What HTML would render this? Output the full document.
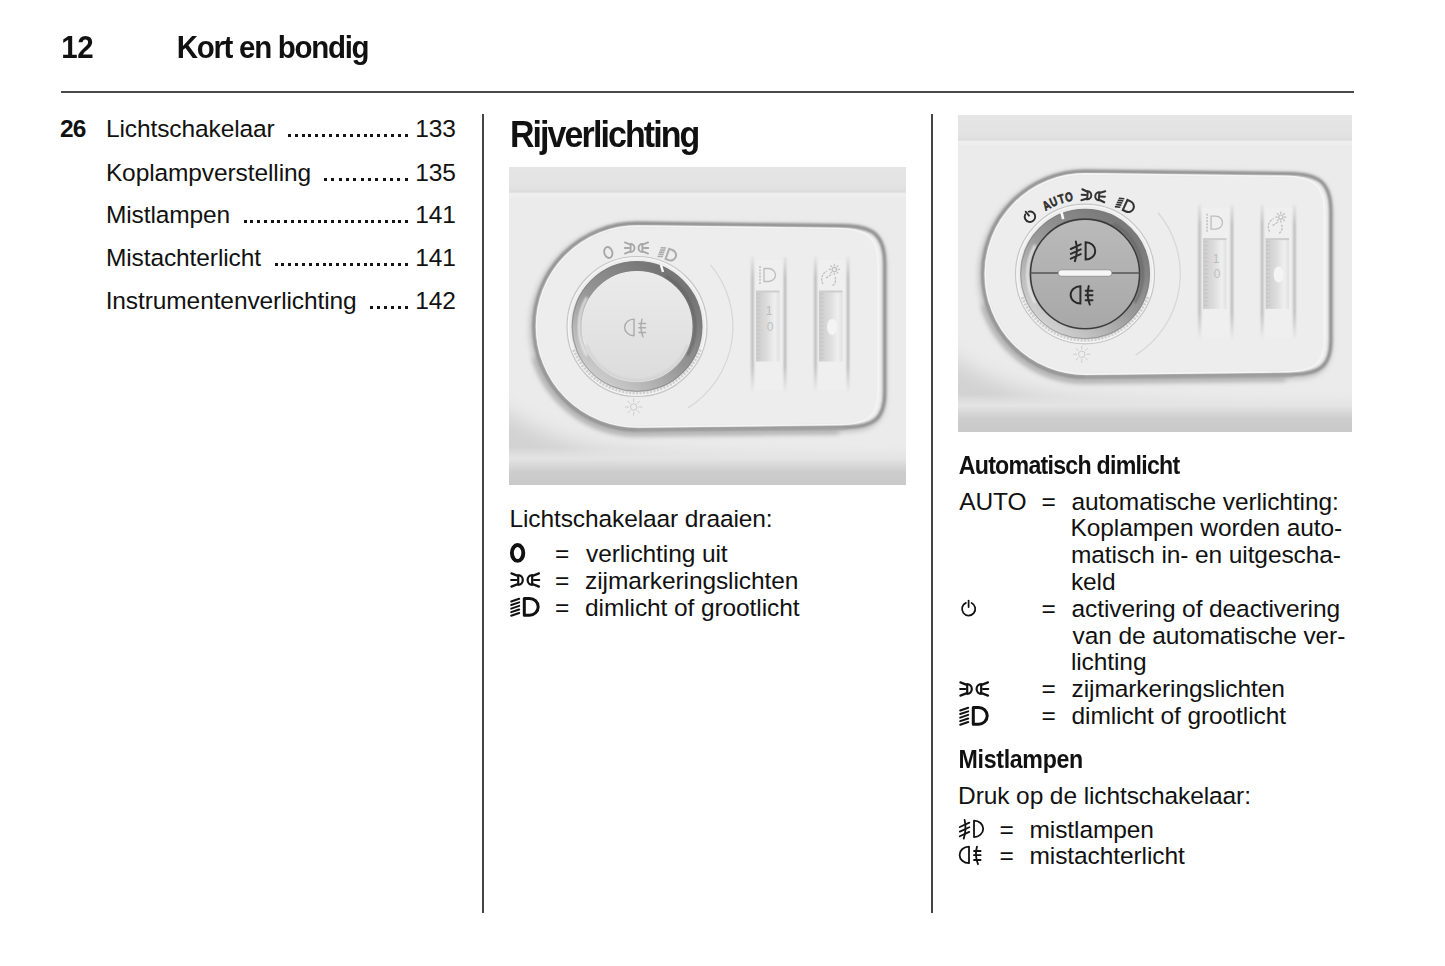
<!DOCTYPE html>
<html><head><meta charset="utf-8"><style>
html,body{margin:0;padding:0;background:#fff;}
body{width:1445px;height:966px;position:relative;overflow:hidden;font-family:"Liberation Sans",sans-serif;color:#111;}
.t{position:absolute;white-space:nowrap;}
.r{position:absolute;}

</style></head><body>
<div class="t" style="left:61.24px;top:31.89px;font-size:29.50px;line-height:32.96px;font-weight:bold;letter-spacing:-0.30px;transform:scaleY(1.07);transform-origin:0 26.71px;">12</div>
<div class="t" style="left:176.73px;top:31.89px;font-size:29.50px;line-height:32.96px;font-weight:bold;letter-spacing:-1.30px;transform:scaleY(1.07);transform-origin:0 26.71px;">Kort en bondig</div>
<div class="r" style="left:61px;top:91px;width:1293px;height:2px;background:#4a4a4a"></div>
<div class="t" style="left:59.95px;top:114.72px;font-size:24.50px;line-height:27.37px;font-weight:bold;letter-spacing:-0.80px;">26</div>
<div class="t" style="left:105.89px;top:114.72px;font-size:24.50px;line-height:27.37px;letter-spacing:-0.10px;">Lichtschakelaar</div>
<div class="t" style="left:415.13px;top:114.72px;font-size:24.50px;line-height:27.37px;letter-spacing:-0.10px;">133</div>
<div class="r" style="left:287.75px;top:133.70px;width:3px;height:3px;background:#141414"></div>
<div class="r" style="left:294.64px;top:133.70px;width:3px;height:3px;background:#141414"></div>
<div class="r" style="left:301.53px;top:133.70px;width:3px;height:3px;background:#141414"></div>
<div class="r" style="left:308.42px;top:133.70px;width:3px;height:3px;background:#141414"></div>
<div class="r" style="left:315.31px;top:133.70px;width:3px;height:3px;background:#141414"></div>
<div class="r" style="left:322.21px;top:133.70px;width:3px;height:3px;background:#141414"></div>
<div class="r" style="left:329.10px;top:133.70px;width:3px;height:3px;background:#141414"></div>
<div class="r" style="left:335.99px;top:133.70px;width:3px;height:3px;background:#141414"></div>
<div class="r" style="left:342.88px;top:133.70px;width:3px;height:3px;background:#141414"></div>
<div class="r" style="left:349.77px;top:133.70px;width:3px;height:3px;background:#141414"></div>
<div class="r" style="left:356.66px;top:133.70px;width:3px;height:3px;background:#141414"></div>
<div class="r" style="left:363.55px;top:133.70px;width:3px;height:3px;background:#141414"></div>
<div class="r" style="left:370.44px;top:133.70px;width:3px;height:3px;background:#141414"></div>
<div class="r" style="left:377.34px;top:133.70px;width:3px;height:3px;background:#141414"></div>
<div class="r" style="left:384.23px;top:133.70px;width:3px;height:3px;background:#141414"></div>
<div class="r" style="left:391.12px;top:133.70px;width:3px;height:3px;background:#141414"></div>
<div class="r" style="left:398.01px;top:133.70px;width:3px;height:3px;background:#141414"></div>
<div class="r" style="left:404.90px;top:133.70px;width:3px;height:3px;background:#141414"></div>
<div class="t" style="left:105.89px;top:158.62px;font-size:24.50px;line-height:27.37px;letter-spacing:-0.10px;">Koplampverstelling</div>
<div class="t" style="left:415.13px;top:158.62px;font-size:24.50px;line-height:27.37px;letter-spacing:-0.10px;">135</div>
<div class="r" style="left:323.90px;top:177.60px;width:3px;height:3px;background:#141414"></div>
<div class="r" style="left:331.25px;top:177.60px;width:3px;height:3px;background:#141414"></div>
<div class="r" style="left:338.61px;top:177.60px;width:3px;height:3px;background:#141414"></div>
<div class="r" style="left:345.96px;top:177.60px;width:3px;height:3px;background:#141414"></div>
<div class="r" style="left:353.32px;top:177.60px;width:3px;height:3px;background:#141414"></div>
<div class="r" style="left:360.67px;top:177.60px;width:3px;height:3px;background:#141414"></div>
<div class="r" style="left:368.03px;top:177.60px;width:3px;height:3px;background:#141414"></div>
<div class="r" style="left:375.38px;top:177.60px;width:3px;height:3px;background:#141414"></div>
<div class="r" style="left:382.74px;top:177.60px;width:3px;height:3px;background:#141414"></div>
<div class="r" style="left:390.09px;top:177.60px;width:3px;height:3px;background:#141414"></div>
<div class="r" style="left:397.45px;top:177.60px;width:3px;height:3px;background:#141414"></div>
<div class="r" style="left:404.80px;top:177.60px;width:3px;height:3px;background:#141414"></div>
<div class="t" style="left:105.89px;top:201.02px;font-size:24.50px;line-height:27.37px;letter-spacing:-0.10px;">Mistlampen</div>
<div class="t" style="left:415.13px;top:201.02px;font-size:24.50px;line-height:27.37px;letter-spacing:-0.10px;">141</div>
<div class="r" style="left:243.70px;top:220.00px;width:3px;height:3px;background:#141414"></div>
<div class="r" style="left:250.42px;top:220.00px;width:3px;height:3px;background:#141414"></div>
<div class="r" style="left:257.15px;top:220.00px;width:3px;height:3px;background:#141414"></div>
<div class="r" style="left:263.88px;top:220.00px;width:3px;height:3px;background:#141414"></div>
<div class="r" style="left:270.60px;top:220.00px;width:3px;height:3px;background:#141414"></div>
<div class="r" style="left:277.32px;top:220.00px;width:3px;height:3px;background:#141414"></div>
<div class="r" style="left:284.05px;top:220.00px;width:3px;height:3px;background:#141414"></div>
<div class="r" style="left:290.77px;top:220.00px;width:3px;height:3px;background:#141414"></div>
<div class="r" style="left:297.50px;top:220.00px;width:3px;height:3px;background:#141414"></div>
<div class="r" style="left:304.23px;top:220.00px;width:3px;height:3px;background:#141414"></div>
<div class="r" style="left:310.95px;top:220.00px;width:3px;height:3px;background:#141414"></div>
<div class="r" style="left:317.68px;top:220.00px;width:3px;height:3px;background:#141414"></div>
<div class="r" style="left:324.40px;top:220.00px;width:3px;height:3px;background:#141414"></div>
<div class="r" style="left:331.12px;top:220.00px;width:3px;height:3px;background:#141414"></div>
<div class="r" style="left:337.85px;top:220.00px;width:3px;height:3px;background:#141414"></div>
<div class="r" style="left:344.58px;top:220.00px;width:3px;height:3px;background:#141414"></div>
<div class="r" style="left:351.30px;top:220.00px;width:3px;height:3px;background:#141414"></div>
<div class="r" style="left:358.02px;top:220.00px;width:3px;height:3px;background:#141414"></div>
<div class="r" style="left:364.75px;top:220.00px;width:3px;height:3px;background:#141414"></div>
<div class="r" style="left:371.48px;top:220.00px;width:3px;height:3px;background:#141414"></div>
<div class="r" style="left:378.20px;top:220.00px;width:3px;height:3px;background:#141414"></div>
<div class="r" style="left:384.93px;top:220.00px;width:3px;height:3px;background:#141414"></div>
<div class="r" style="left:391.65px;top:220.00px;width:3px;height:3px;background:#141414"></div>
<div class="r" style="left:398.38px;top:220.00px;width:3px;height:3px;background:#141414"></div>
<div class="r" style="left:405.10px;top:220.00px;width:3px;height:3px;background:#141414"></div>
<div class="t" style="left:105.89px;top:244.32px;font-size:24.50px;line-height:27.37px;letter-spacing:-0.10px;">Mistachterlicht</div>
<div class="t" style="left:415.13px;top:244.32px;font-size:24.50px;line-height:27.37px;letter-spacing:-0.10px;">141</div>
<div class="r" style="left:274.60px;top:263.30px;width:3px;height:3px;background:#141414"></div>
<div class="r" style="left:281.45px;top:263.30px;width:3px;height:3px;background:#141414"></div>
<div class="r" style="left:288.29px;top:263.30px;width:3px;height:3px;background:#141414"></div>
<div class="r" style="left:295.14px;top:263.30px;width:3px;height:3px;background:#141414"></div>
<div class="r" style="left:301.99px;top:263.30px;width:3px;height:3px;background:#141414"></div>
<div class="r" style="left:308.84px;top:263.30px;width:3px;height:3px;background:#141414"></div>
<div class="r" style="left:315.68px;top:263.30px;width:3px;height:3px;background:#141414"></div>
<div class="r" style="left:322.53px;top:263.30px;width:3px;height:3px;background:#141414"></div>
<div class="r" style="left:329.38px;top:263.30px;width:3px;height:3px;background:#141414"></div>
<div class="r" style="left:336.23px;top:263.30px;width:3px;height:3px;background:#141414"></div>
<div class="r" style="left:343.07px;top:263.30px;width:3px;height:3px;background:#141414"></div>
<div class="r" style="left:349.92px;top:263.30px;width:3px;height:3px;background:#141414"></div>
<div class="r" style="left:356.77px;top:263.30px;width:3px;height:3px;background:#141414"></div>
<div class="r" style="left:363.62px;top:263.30px;width:3px;height:3px;background:#141414"></div>
<div class="r" style="left:370.46px;top:263.30px;width:3px;height:3px;background:#141414"></div>
<div class="r" style="left:377.31px;top:263.30px;width:3px;height:3px;background:#141414"></div>
<div class="r" style="left:384.16px;top:263.30px;width:3px;height:3px;background:#141414"></div>
<div class="r" style="left:391.01px;top:263.30px;width:3px;height:3px;background:#141414"></div>
<div class="r" style="left:397.85px;top:263.30px;width:3px;height:3px;background:#141414"></div>
<div class="r" style="left:404.70px;top:263.30px;width:3px;height:3px;background:#141414"></div>
<div class="t" style="left:105.64px;top:287.12px;font-size:24.50px;line-height:27.37px;letter-spacing:-0.10px;">Instrumentenverlichting</div>
<div class="t" style="left:415.13px;top:287.12px;font-size:24.50px;line-height:27.37px;letter-spacing:-0.10px;">142</div>
<div class="r" style="left:370.30px;top:306.10px;width:3px;height:3px;background:#141414"></div>
<div class="r" style="left:377.18px;top:306.10px;width:3px;height:3px;background:#141414"></div>
<div class="r" style="left:384.06px;top:306.10px;width:3px;height:3px;background:#141414"></div>
<div class="r" style="left:390.94px;top:306.10px;width:3px;height:3px;background:#141414"></div>
<div class="r" style="left:397.82px;top:306.10px;width:3px;height:3px;background:#141414"></div>
<div class="r" style="left:404.70px;top:306.10px;width:3px;height:3px;background:#141414"></div>
<div class="r" style="left:482px;top:114px;width:1.6px;height:799px;background:#444"></div>
<div class="r" style="left:931.2px;top:114px;width:1.6px;height:799px;background:#444"></div>
<div class="t" style="left:509.93px;top:116.02px;font-size:34.00px;line-height:37.98px;font-weight:bold;letter-spacing:-1.92px;transform:scaleY(1.085);transform-origin:0 30.78px;">Rijverlichting</div>
<div class="t" style="left:509.39px;top:505.42px;font-size:24.50px;line-height:27.37px;letter-spacing:-0.10px;">Lichtschakelaar draaien:</div>
<div class="t" style="left:555.10px;top:539.72px;font-size:24.50px;line-height:27.37px;">=</div>
<div class="t" style="left:586.02px;top:539.72px;font-size:24.50px;line-height:27.37px;letter-spacing:-0.10px;">verlichting uit</div>
<div class="t" style="left:555.10px;top:566.62px;font-size:24.50px;line-height:27.37px;">=</div>
<div class="t" style="left:585.11px;top:566.62px;font-size:24.50px;line-height:27.37px;letter-spacing:-0.10px;">zijmarkeringslichten</div>
<div class="t" style="left:555.10px;top:593.52px;font-size:24.50px;line-height:27.37px;">=</div>
<div class="t" style="left:585.07px;top:593.52px;font-size:24.50px;line-height:27.37px;letter-spacing:-0.10px;">dimlicht of grootlicht</div>
<div class="t" style="left:958.72px;top:453.80px;font-size:23.20px;line-height:25.92px;font-weight:bold;letter-spacing:-0.75px;transform:scaleY(1.08);transform-origin:0 21.00px;">Automatisch dimlicht</div>
<div class="t" style="left:959.25px;top:487.62px;font-size:24.50px;line-height:27.37px;letter-spacing:-0.10px;">AUTO</div>
<div class="t" style="left:1071.56px;top:487.62px;font-size:24.50px;line-height:27.37px;letter-spacing:-0.10px;">automatische verlichting:</div>
<div class="t" style="left:1070.59px;top:514.42px;font-size:24.50px;line-height:27.37px;letter-spacing:-0.10px;">Koplampen worden auto-</div>
<div class="t" style="left:1070.97px;top:541.22px;font-size:24.50px;line-height:27.37px;letter-spacing:-0.10px;">matisch in- en uitgescha-</div>
<div class="t" style="left:1070.95px;top:568.02px;font-size:24.50px;line-height:27.37px;letter-spacing:-0.10px;">keld</div>
<div class="t" style="left:1071.56px;top:594.82px;font-size:24.50px;line-height:27.37px;letter-spacing:-0.10px;">activering of deactivering</div>
<div class="t" style="left:1072.52px;top:621.62px;font-size:24.50px;line-height:27.37px;letter-spacing:-0.10px;">van de automatische ver-</div>
<div class="t" style="left:1070.95px;top:648.42px;font-size:24.50px;line-height:27.37px;letter-spacing:-0.10px;">lichting</div>
<div class="t" style="left:1071.61px;top:675.22px;font-size:24.50px;line-height:27.37px;letter-spacing:-0.10px;">zijmarkeringslichten</div>
<div class="t" style="left:1071.57px;top:702.02px;font-size:24.50px;line-height:27.37px;letter-spacing:-0.10px;">dimlicht of grootlicht</div>
<div class="t" style="left:1041.60px;top:487.62px;font-size:24.50px;line-height:27.37px;">=</div>
<div class="t" style="left:1041.60px;top:594.82px;font-size:24.50px;line-height:27.37px;">=</div>
<div class="t" style="left:1041.60px;top:675.22px;font-size:24.50px;line-height:27.37px;">=</div>
<div class="t" style="left:1041.60px;top:702.02px;font-size:24.50px;line-height:27.37px;">=</div>
<div class="t" style="left:958.55px;top:747.70px;font-size:23.20px;line-height:25.92px;font-weight:bold;letter-spacing:-0.32px;transform:scaleY(1.08);transform-origin:0 21.00px;">Mistlampen</div>
<div class="t" style="left:958.09px;top:781.62px;font-size:24.50px;line-height:27.37px;letter-spacing:-0.10px;">Druk op de lichtschakelaar:</div>
<div class="t" style="left:999.50px;top:815.62px;font-size:24.50px;line-height:27.37px;">=</div>
<div class="t" style="left:1029.57px;top:815.62px;font-size:24.50px;line-height:27.37px;letter-spacing:-0.10px;">mistlampen</div>
<div class="t" style="left:999.50px;top:842.42px;font-size:24.50px;line-height:27.37px;">=</div>
<div class="t" style="left:1029.57px;top:842.42px;font-size:24.50px;line-height:27.37px;letter-spacing:-0.10px;">mistachterlicht</div>
<svg class="r" style="left:509px;top:167px" width="397" height="318" viewBox="0 0 397 318" preserveAspectRatio="none">
<defs>
<filter id="p1b1" x="-20%" y="-20%" width="140%" height="140%"><feGaussianBlur stdDeviation="1.1"/></filter>
<filter id="p1b2" x="-20%" y="-20%" width="140%" height="140%"><feGaussianBlur stdDeviation="2.5"/></filter>
<filter id="p1b6" x="-50%" y="-50%" width="200%" height="200%"><feGaussianBlur stdDeviation="10"/></filter>
<filter id="p1b05" x="-20%" y="-20%" width="140%" height="140%"><feGaussianBlur stdDeviation="0.6"/></filter>
<linearGradient id="p1top" x1="0" y1="0" x2="0" y2="1"><stop offset="0" stop-color="#e5e5e5"/><stop offset="0.7" stop-color="#e3e3e3"/><stop offset="1" stop-color="#dedede"/></linearGradient>
<linearGradient id="p1bot" x1="0" y1="0" x2="0" y2="1">
 <stop offset="0" stop-color="#e8e8e8" stop-opacity="0"/><stop offset="0.3" stop-color="#e4e4e4"/><stop offset="0.65" stop-color="#cdcdcd"/><stop offset="1" stop-color="#c9c9c9"/></linearGradient>
<linearGradient id="p1ring" x1="0.85" y1="0.15" x2="0.2" y2="0.95">
 <stop offset="0" stop-color="#747474"/><stop offset="0.5" stop-color="#959595"/><stop offset="1" stop-color="#cdcdcd"/></linearGradient>
<linearGradient id="p1face" x1="0" y1="0" x2="0" y2="1">
 <stop offset="0" stop-color="#ebebeb"/><stop offset="1" stop-color="#dcdcdc"/></linearGradient>
<linearGradient id="p1wheel" x1="0" y1="0" x2="1" y2="0">
 <stop offset="0" stop-color="#cbcbcb"/><stop offset="0.45" stop-color="#dcdcdc"/><stop offset="0.8" stop-color="#efefef"/><stop offset="1" stop-color="#e0e0e0"/></linearGradient>
<linearGradient id="p1line" x1="0" y1="0" x2="0" y2="1">
 <stop offset="0" stop-color="#b0b0b0" stop-opacity="0.2"/><stop offset="0.15" stop-color="#b0b0b0" stop-opacity="1"/><stop offset="0.8" stop-color="#b0b0b0" stop-opacity="1"/><stop offset="1" stop-color="#b0b0b0" stop-opacity="0"/></linearGradient>
</defs>
<rect x="0" y="0" width="397" height="318" fill="#ebebeb"/>
<rect x="0" y="0" width="397" height="25" fill="url(#p1top)"/>
<rect x="0" y="24" width="397" height="2" fill="#dcdcdc" filter="url(#p1b05)"/>
<rect x="0" y="26" width="397" height="4" fill="#efefef" filter="url(#p1b1)"/>
<path d="M-30,225 Q30,275 110,285 Q250,298 420,298 L420,340 L-30,340 Z" fill="#d2d2d2" filter="url(#p1b6)"/>
<rect x="0" y="280" width="397" height="38" fill="url(#p1bot)"/>
<path d="M128,56.5 L334,59 C362,59.5 375.5,66 375.5,97 L375.5,226 C375.5,252 364,259.5 338,260 L128,262.5 A103,103 0 0 1 128,56.5 Z" fill="none" stroke="#c6c6c6" stroke-width="7" filter="url(#p1b2)" transform="translate(-1.5,2)"/>
<path d="M330,264 L128,266 A106,106 0 0 1 26,190" fill="none" stroke="#b4b4b4" stroke-width="6" filter="url(#p1b2)"/>
<path d="M128,56.5 L334,59 C362,59.5 375.5,66 375.5,97 L375.5,226 C375.5,252 364,259.5 338,260 L128,262.5 A103,103 0 0 1 128,56.5 Z" fill="#ededed" stroke="#909090" stroke-width="3.8" filter="url(#p1b1)"/>
<path d="M128,262.5 A103,103 0 0 1 30,190" fill="none" stroke="#9a9a9a" stroke-width="2.5" filter="url(#p1b1)"/>
<path d="M128,263.5 L338,261" fill="none" stroke="#a2a2a2" stroke-width="2.5" filter="url(#p1b1)"/>
<path d="M128,56.5 L334,59 C362,59.5 375.5,66 375.5,97 L375.5,226 C375.5,252 364,259.5 338,260 L128,262.5 A103,103 0 0 1 128,56.5 Z" fill="none" stroke="#f5f5f5" stroke-width="1.6" transform="translate(128,160) scale(0.975) translate(-128,-160)" filter="url(#p1b05)"/>
<path d="M201.5,97.8 A96,96 0 0 1 178.9,240.9" fill="none" stroke="#d8d8d8" stroke-width="1.3" filter="url(#p1b05)"/>
<circle cx="128" cy="159.5" r="70" fill="none" stroke="#c6c6c6" stroke-width="1.2" filter="url(#p1b05)"/>
<circle cx="128" cy="159.5" r="68.5" fill="none" stroke="#f6f6f6" stroke-width="1.2" filter="url(#p1b05)"/>
<path d="M191.4,182.6 A68,68 0 0 1 64.6,182.6" fill="none" stroke="#cfcfcf" stroke-width="3" stroke-dasharray="2 1.5" filter="url(#p1b05)"/>
<circle cx="128" cy="159.5" r="60.5" fill="none" stroke="url(#p1ring)" stroke-width="10" filter="url(#p1b05)"/>
<path d="M77.8,130.5 A58,58 0 0 0 77.8,188.5" fill="none" stroke="#eeeeee" stroke-width="2.2" filter="url(#p1b1)"/>
<path d="M157.0,109.3 A58,58 0 0 1 178.2,188.5" fill="none" stroke="#5f5f5f" stroke-width="2.5" opacity="0.7" filter="url(#p1b1)"/>
<circle cx="128" cy="159.5" r="64.8" fill="none" stroke="#7d7d7d" stroke-width="1" opacity="0.6"/>
<circle cx="128" cy="159.5" r="55" fill="url(#p1face)"/>
<path d="M178.7,178.0 A54,54 0 0 1 77.3,178.0" fill="none" stroke="#cfcfcf" stroke-width="2" filter="url(#p1b1)"/>
<g transform="translate(128,160.5) rotate(0) scale(1) translate(-17,-15)"><path d="M14.0,6.6 A9.4,8.3 0 0 0 14.0,23.2 Z" fill="none" stroke="#ababab" stroke-width="1.4"/><path d="M19.0,11.0 L25.6,11.0 M19.0,15.2 L25.6,15.2 M19.0,20.0 L25.6,20.0 M22.0,6.6 Q19.4,15.5 23.0,24.2" fill="none" stroke="#ababab" stroke-width="1.4" stroke-linecap="round"/></g>
<path d="M152,98 L154,105" stroke="#fafafa" stroke-width="2.4"/>
<g transform="translate(99.3,85.5) rotate(-15) scale(0.7)"><ellipse cx="0" cy="0" rx="5.7" ry="7.95" fill="none" stroke="#a6a6a6" stroke-width="2.6"/></g>
<g transform="translate(127.5,81) rotate(0) scale(0.84) translate(-20.2,-12)"><path d="M13.2,7.2 A4.6,4.8 0 0 1 13.2,16.8 Z" fill="none" stroke="#a8a8a8" stroke-width="2.2"/><path d="M6.4,5.4 L12.2,7.6 M6.2,12 L11.4,12 M6.4,18.6 L12.2,16.4" stroke="#a8a8a8" stroke-width="2.2" stroke-linecap="round"/><g transform="translate(40.4,0) scale(-1,1)"><path d="M13.2,7.2 A4.6,4.8 0 0 1 13.2,16.8 Z" fill="none" stroke="#a8a8a8" stroke-width="2.2"/><path d="M6.4,5.4 L12.2,7.6 M6.2,12 L11.4,12 M6.4,18.6 L12.2,16.4" stroke="#a8a8a8" stroke-width="2.2" stroke-linecap="round"/></g></g>
<g transform="translate(160,87.5) rotate(20) scale(0.64) translate(-22,-16.8)"><path d="M19.3,8.4 L24.6,8.4 A8.6,8.4 0 0 1 24.6,25.2 L19.3,25.2 Z" fill="none" stroke="#acacac" stroke-width="3.12"/><path d="M6.2,11.50 L14.2,8.80 M6.2,15.05 L14.2,12.35 M6.2,18.60 L14.2,15.90 M6.2,22.15 L14.2,19.45 M6.2,25.70 L14.2,23.00 " stroke="#acacac" stroke-width="2.4"/></g>
<circle cx="124.7" cy="240" r="3.22" fill="none" stroke="#cbcbcb" stroke-width="1"/><path d="M129.53,240.00 L133.32,240.00 M128.12,243.42 L130.80,246.10 M124.70,244.83 L124.70,248.62 M121.28,243.42 L118.60,246.10 M119.87,240.00 L116.08,240.00 M121.28,236.58 L118.60,233.90 M124.70,235.17 L124.70,231.38 M128.12,236.58 L130.80,233.90 " stroke="#cbcbcb" stroke-width="1"/>
<rect x="243.5" y="93" width="32" height="130" fill="#efefef" filter="url(#p1b05)"/>
<path d="M243.5,90 L243.5,226 M276,90 L276,226" stroke="url(#p1line)" stroke-width="2.2" filter="url(#p1b1)"/>
<rect x="247" y="124.5" width="23.5" height="70" fill="url(#p1wheel)" filter="url(#p1b05)"/>
<path d="M247.5,127 L251.5,127 M247.5,131 L251.5,131 M247.5,135 L251.5,135 M247.5,139 L251.5,139 M247.5,143 L251.5,143 M247.5,147 L251.5,147 M247.5,151 L251.5,151 M247.5,155 L251.5,155 M247.5,159 L251.5,159 M247.5,163 L251.5,163 M247.5,167 L251.5,167 M247.5,171 L251.5,171 M247.5,175 L251.5,175 M247.5,179 L251.5,179 M247.5,183 L251.5,183 M247.5,187 L251.5,187 M247.5,191 L251.5,191 " stroke="#c2c2c2" stroke-width="0.8"/>
<rect x="247" y="123.5" width="23.5" height="2" fill="#cdcdcd" filter="url(#p1b05)"/>
<rect x="306.5" y="93" width="32" height="130" fill="#efefef" filter="url(#p1b05)"/>
<path d="M306.5,90 L306.5,226 M339,90 L339,226" stroke="url(#p1line)" stroke-width="2.2" filter="url(#p1b1)"/>
<rect x="310" y="124.5" width="23.5" height="70" fill="url(#p1wheel)" filter="url(#p1b05)"/>
<path d="M310.5,127 L314.5,127 M310.5,131 L314.5,131 M310.5,135 L314.5,135 M310.5,139 L314.5,139 M310.5,143 L314.5,143 M310.5,147 L314.5,147 M310.5,151 L314.5,151 M310.5,155 L314.5,155 M310.5,159 L314.5,159 M310.5,163 L314.5,163 M310.5,167 L314.5,167 M310.5,171 L314.5,171 M310.5,175 L314.5,175 M310.5,179 L314.5,179 M310.5,183 L314.5,183 M310.5,187 L314.5,187 M310.5,191 L314.5,191 " stroke="#c2c2c2" stroke-width="0.8"/>
<rect x="310" y="123.5" width="23.5" height="2" fill="#cdcdcd" filter="url(#p1b05)"/>
<path d="M255,101.5 L259.5,101.5 A7,6.5 0 0 1 259.5,114.5 L255,114.5 Z" fill="none" stroke="#bdbdbd" stroke-width="1.3"/>
<path d="M251,99 L251,118" stroke="#c2c2c2" stroke-width="1.6" stroke-dasharray="2 1.2"/>
<circle cx="325.3" cy="102.4" r="2.1" fill="none" stroke="#c0c0c0" stroke-width="1.2"/><path d="M328.45,102.40 L330.93,102.40 M327.53,104.63 L329.28,106.38 M325.30,105.55 L325.30,108.03 M323.07,104.63 L321.32,106.38 M322.15,102.40 L319.68,102.40 M323.07,100.17 L321.32,98.42 M325.30,99.25 L325.30,96.78 M327.53,100.17 L329.28,98.42 " stroke="#c0c0c0" stroke-width="1.2"/>
<path d="M314,117 A9,9 0 0 1 318,104 M317,111 L323,107 M326,110 A7,7 0 0 1 323,119" fill="none" stroke="#c0c0c0" stroke-width="1.3" stroke-dasharray="2.5 1"/>
<text x="260" y="148" text-anchor="middle" font-family="Liberation Sans" font-size="12" fill="#bcbcbc">1</text><text x="261" y="164" text-anchor="middle" font-family="Liberation Sans" font-size="12" fill="#c0c0c0">0</text>
<ellipse cx="323" cy="160" rx="5" ry="8" fill="#f4f4f4" filter="url(#p1b05)"/>
</svg>
<svg class="r" style="left:958px;top:115px" width="394" height="317" viewBox="0 0 397 318" preserveAspectRatio="none">
<defs>
<filter id="p2b1" x="-20%" y="-20%" width="140%" height="140%"><feGaussianBlur stdDeviation="1.1"/></filter>
<filter id="p2b2" x="-20%" y="-20%" width="140%" height="140%"><feGaussianBlur stdDeviation="2.5"/></filter>
<filter id="p2b6" x="-50%" y="-50%" width="200%" height="200%"><feGaussianBlur stdDeviation="10"/></filter>
<filter id="p2b05" x="-20%" y="-20%" width="140%" height="140%"><feGaussianBlur stdDeviation="0.6"/></filter>
<linearGradient id="p2top" x1="0" y1="0" x2="0" y2="1"><stop offset="0" stop-color="#e5e5e5"/><stop offset="0.7" stop-color="#e3e3e3"/><stop offset="1" stop-color="#dedede"/></linearGradient>
<linearGradient id="p2bot" x1="0" y1="0" x2="0" y2="1">
 <stop offset="0" stop-color="#e8e8e8" stop-opacity="0"/><stop offset="0.3" stop-color="#e4e4e4"/><stop offset="0.65" stop-color="#cdcdcd"/><stop offset="1" stop-color="#c9c9c9"/></linearGradient>
<linearGradient id="p2ring" x1="0.85" y1="0.15" x2="0.2" y2="0.95">
 <stop offset="0" stop-color="#7a7a7a"/><stop offset="0.5" stop-color="#9a9a9a"/><stop offset="1" stop-color="#d2d2d2"/></linearGradient>
<linearGradient id="p2face" x1="0" y1="0" x2="0" y2="1">
 <stop offset="0" stop-color="#bababa"/><stop offset="1" stop-color="#a8a8a8"/></linearGradient>
<linearGradient id="p2wheel" x1="0" y1="0" x2="1" y2="0">
 <stop offset="0" stop-color="#cbcbcb"/><stop offset="0.45" stop-color="#dcdcdc"/><stop offset="0.8" stop-color="#efefef"/><stop offset="1" stop-color="#e0e0e0"/></linearGradient>
<linearGradient id="p2line" x1="0" y1="0" x2="0" y2="1">
 <stop offset="0" stop-color="#b0b0b0" stop-opacity="0.2"/><stop offset="0.15" stop-color="#b0b0b0" stop-opacity="1"/><stop offset="0.8" stop-color="#b0b0b0" stop-opacity="1"/><stop offset="1" stop-color="#b0b0b0" stop-opacity="0"/></linearGradient>
</defs>
<rect x="0" y="0" width="397" height="318" fill="#ebebeb"/>
<rect x="0" y="0" width="397" height="25" fill="url(#p2top)"/>
<rect x="0" y="24" width="397" height="2" fill="#dcdcdc" filter="url(#p2b05)"/>
<rect x="0" y="26" width="397" height="4" fill="#efefef" filter="url(#p2b1)"/>
<path d="M-30,225 Q30,275 110,285 Q250,298 420,298 L420,340 L-30,340 Z" fill="#d2d2d2" filter="url(#p2b6)"/>
<rect x="0" y="280" width="397" height="38" fill="url(#p2bot)"/>
<path d="M128,56.5 L334,59 C362,59.5 375.5,66 375.5,97 L375.5,226 C375.5,252 364,259.5 338,260 L128,262.5 A103,103 0 0 1 128,56.5 Z" fill="none" stroke="#c6c6c6" stroke-width="7" filter="url(#p2b2)" transform="translate(-1.5,2)"/>
<path d="M330,264 L128,266 A106,106 0 0 1 26,190" fill="none" stroke="#b4b4b4" stroke-width="6" filter="url(#p2b2)"/>
<path d="M128,56.5 L334,59 C362,59.5 375.5,66 375.5,97 L375.5,226 C375.5,252 364,259.5 338,260 L128,262.5 A103,103 0 0 1 128,56.5 Z" fill="#ededed" stroke="#909090" stroke-width="3.8" filter="url(#p2b1)"/>
<path d="M128,262.5 A103,103 0 0 1 30,190" fill="none" stroke="#9a9a9a" stroke-width="2.5" filter="url(#p2b1)"/>
<path d="M128,263.5 L338,261" fill="none" stroke="#a2a2a2" stroke-width="2.5" filter="url(#p2b1)"/>
<path d="M128,56.5 L334,59 C362,59.5 375.5,66 375.5,97 L375.5,226 C375.5,252 364,259.5 338,260 L128,262.5 A103,103 0 0 1 128,56.5 Z" fill="none" stroke="#f5f5f5" stroke-width="1.6" transform="translate(128,160) scale(0.975) translate(-128,-160)" filter="url(#p2b05)"/>
<path d="M201.5,97.8 A96,96 0 0 1 178.9,240.9" fill="none" stroke="#d8d8d8" stroke-width="1.3" filter="url(#p2b05)"/>
<circle cx="128" cy="159.5" r="70" fill="none" stroke="#c6c6c6" stroke-width="1.2" filter="url(#p2b05)"/>
<circle cx="128" cy="159.5" r="68.5" fill="none" stroke="#f6f6f6" stroke-width="1.2" filter="url(#p2b05)"/>
<path d="M191.4,182.6 A68,68 0 0 1 64.6,182.6" fill="none" stroke="#cfcfcf" stroke-width="3" stroke-dasharray="2 1.5" filter="url(#p2b05)"/>
<circle cx="128" cy="159.5" r="60.5" fill="none" stroke="url(#p2ring)" stroke-width="10" filter="url(#p2b05)"/>
<path d="M77.8,130.5 A58,58 0 0 0 77.8,188.5" fill="none" stroke="#eeeeee" stroke-width="2.2" filter="url(#p2b1)"/>
<path d="M157.0,109.3 A58,58 0 0 1 178.2,188.5" fill="none" stroke="#5f5f5f" stroke-width="2.5" opacity="0.7" filter="url(#p2b1)"/>
<circle cx="128" cy="159.5" r="64.8" fill="none" stroke="#7d7d7d" stroke-width="1" opacity="0.6"/>
<circle cx="128" cy="159.5" r="55" fill="url(#p2face)"/>
<circle cx="128" cy="159.5" r="55" fill="none" stroke="#3a3a3a" stroke-width="1.6" filter="url(#p2b05)"/>
<path d="M73,158.5 L183,158.5" stroke="#555" stroke-width="1.6"/>
<rect x="101" y="155.3" width="54" height="6.5" rx="3" fill="#f6f6f6" stroke="#8a8a8a" stroke-width="0.8"/>
<g transform="translate(126.5,136.5) rotate(0) scale(1.05) translate(-17,-14)"><path d="M19.0,5.6 A9.2,8.25 0 0 1 19.0,22.1 Z" fill="none" stroke="#2a2a2a" stroke-width="1.9"/><path d="M4.8,12.0 L14.3,7.6 M4.8,16.6 L14.3,12.3 M4.8,21.3 L14.3,16.9 M9.6,4.9 Q11.8,14 8.7,23.6" fill="none" stroke="#2a2a2a" stroke-width="1.9" stroke-linecap="round"/></g>
<g transform="translate(126.5,180.5) rotate(0) scale(1.05) translate(-17,-15)"><path d="M14.0,6.6 A9.4,8.3 0 0 0 14.0,23.2 Z" fill="none" stroke="#2a2a2a" stroke-width="1.9"/><path d="M19.0,11.0 L25.6,11.0 M19.0,15.2 L25.6,15.2 M19.0,20.0 L25.6,20.0 M22.0,6.6 Q19.4,15.5 23.0,24.2" fill="none" stroke="#2a2a2a" stroke-width="1.9" stroke-linecap="round"/></g>
<path d="M104.3,97.5 L106,104.5" stroke="#fafafa" stroke-width="2.6"/>
<g transform="translate(72,101.5) rotate(-40) scale(0.8) translate(-13.6,-13)"><path d="M10.9,7.9 A6.6,6.6 0 1 0 16.6,8.0 M13.6,5.6 L13.6,12.1" fill="none" stroke="#2e2e2e" stroke-width="2.4" stroke-linecap="round"/></g>
<text x="0" y="4.4" transform="translate(89.10,90.74) rotate(-29.50) scale(0.78,1)" text-anchor="middle" font-family="Liberation Sans" font-weight="bold" font-size="12.8" fill="#2e2e2e" stroke="#2e2e2e" stroke-width="0.6">A</text>
<text x="0" y="4.4" transform="translate(96.37,87.11) rotate(-23.60) scale(0.78,1)" text-anchor="middle" font-family="Liberation Sans" font-weight="bold" font-size="12.8" fill="#2e2e2e" stroke="#2e2e2e" stroke-width="0.6">U</text>
<text x="0" y="4.4" transform="translate(103.98,84.24) rotate(-17.70) scale(0.78,1)" text-anchor="middle" font-family="Liberation Sans" font-weight="bold" font-size="12.8" fill="#2e2e2e" stroke="#2e2e2e" stroke-width="0.6">T</text>
<text x="0" y="4.4" transform="translate(111.71,82.20) rotate(-11.90) scale(0.78,1)" text-anchor="middle" font-family="Liberation Sans" font-weight="bold" font-size="12.8" fill="#2e2e2e" stroke="#2e2e2e" stroke-width="0.6">O</text>
<g transform="translate(136.3,81) rotate(5) scale(0.84) translate(-20.2,-12)"><path d="M13.2,7.2 A4.6,4.8 0 0 1 13.2,16.8 Z" fill="none" stroke="#333" stroke-width="2.4"/><path d="M6.4,5.4 L12.2,7.6 M6.2,12 L11.4,12 M6.4,18.6 L12.2,16.4" stroke="#333" stroke-width="2.4" stroke-linecap="round"/><g transform="translate(40.4,0) scale(-1,1)"><path d="M13.2,7.2 A4.6,4.8 0 0 1 13.2,16.8 Z" fill="none" stroke="#333" stroke-width="2.4"/><path d="M6.4,5.4 L12.2,7.6 M6.2,12 L11.4,12 M6.4,18.6 L12.2,16.4" stroke="#333" stroke-width="2.4" stroke-linecap="round"/></g></g>
<g transform="translate(170,91) rotate(25) scale(0.66) translate(-22,-16.8)"><path d="M19.3,8.4 L24.6,8.4 A8.6,8.4 0 0 1 24.6,25.2 L19.3,25.2 Z" fill="none" stroke="#333" stroke-width="3.12"/><path d="M6.2,11.50 L14.2,8.80 M6.2,15.05 L14.2,12.35 M6.2,18.60 L14.2,15.90 M6.2,22.15 L14.2,19.45 M6.2,25.70 L14.2,23.00 " stroke="#333" stroke-width="2.4"/></g>
<circle cx="124.7" cy="240" r="3.22" fill="none" stroke="#cbcbcb" stroke-width="1"/><path d="M129.53,240.00 L133.32,240.00 M128.12,243.42 L130.80,246.10 M124.70,244.83 L124.70,248.62 M121.28,243.42 L118.60,246.10 M119.87,240.00 L116.08,240.00 M121.28,236.58 L118.60,233.90 M124.70,235.17 L124.70,231.38 M128.12,236.58 L130.80,233.90 " stroke="#cbcbcb" stroke-width="1"/>
<rect x="243.5" y="93" width="32" height="130" fill="#efefef" filter="url(#p2b05)"/>
<path d="M243.5,90 L243.5,226 M276,90 L276,226" stroke="url(#p2line)" stroke-width="2.2" filter="url(#p2b1)"/>
<rect x="247" y="124.5" width="23.5" height="70" fill="url(#p2wheel)" filter="url(#p2b05)"/>
<path d="M247.5,127 L251.5,127 M247.5,131 L251.5,131 M247.5,135 L251.5,135 M247.5,139 L251.5,139 M247.5,143 L251.5,143 M247.5,147 L251.5,147 M247.5,151 L251.5,151 M247.5,155 L251.5,155 M247.5,159 L251.5,159 M247.5,163 L251.5,163 M247.5,167 L251.5,167 M247.5,171 L251.5,171 M247.5,175 L251.5,175 M247.5,179 L251.5,179 M247.5,183 L251.5,183 M247.5,187 L251.5,187 M247.5,191 L251.5,191 " stroke="#c2c2c2" stroke-width="0.8"/>
<rect x="247" y="123.5" width="23.5" height="2" fill="#cdcdcd" filter="url(#p2b05)"/>
<rect x="306.5" y="93" width="32" height="130" fill="#efefef" filter="url(#p2b05)"/>
<path d="M306.5,90 L306.5,226 M339,90 L339,226" stroke="url(#p2line)" stroke-width="2.2" filter="url(#p2b1)"/>
<rect x="310" y="124.5" width="23.5" height="70" fill="url(#p2wheel)" filter="url(#p2b05)"/>
<path d="M310.5,127 L314.5,127 M310.5,131 L314.5,131 M310.5,135 L314.5,135 M310.5,139 L314.5,139 M310.5,143 L314.5,143 M310.5,147 L314.5,147 M310.5,151 L314.5,151 M310.5,155 L314.5,155 M310.5,159 L314.5,159 M310.5,163 L314.5,163 M310.5,167 L314.5,167 M310.5,171 L314.5,171 M310.5,175 L314.5,175 M310.5,179 L314.5,179 M310.5,183 L314.5,183 M310.5,187 L314.5,187 M310.5,191 L314.5,191 " stroke="#c2c2c2" stroke-width="0.8"/>
<rect x="310" y="123.5" width="23.5" height="2" fill="#cdcdcd" filter="url(#p2b05)"/>
<path d="M255,101.5 L259.5,101.5 A7,6.5 0 0 1 259.5,114.5 L255,114.5 Z" fill="none" stroke="#bdbdbd" stroke-width="1.3"/>
<path d="M251,99 L251,118" stroke="#c2c2c2" stroke-width="1.6" stroke-dasharray="2 1.2"/>
<circle cx="325.3" cy="102.4" r="2.1" fill="none" stroke="#c0c0c0" stroke-width="1.2"/><path d="M328.45,102.40 L330.93,102.40 M327.53,104.63 L329.28,106.38 M325.30,105.55 L325.30,108.03 M323.07,104.63 L321.32,106.38 M322.15,102.40 L319.68,102.40 M323.07,100.17 L321.32,98.42 M325.30,99.25 L325.30,96.78 M327.53,100.17 L329.28,98.42 " stroke="#c0c0c0" stroke-width="1.2"/>
<path d="M314,117 A9,9 0 0 1 318,104 M317,111 L323,107 M326,110 A7,7 0 0 1 323,119" fill="none" stroke="#c0c0c0" stroke-width="1.3" stroke-dasharray="2.5 1"/>
<text x="260" y="148" text-anchor="middle" font-family="Liberation Sans" font-size="12" fill="#bcbcbc">1</text><text x="261" y="164" text-anchor="middle" font-family="Liberation Sans" font-size="12" fill="#c0c0c0">0</text>
<ellipse cx="323" cy="160" rx="5" ry="8" fill="#f4f4f4" filter="url(#p2b05)"/>
</svg>
<svg class="r" style="left:505.00px;top:538.00px;overflow:visible" width="25" height="30" viewBox="0 0 25 30"><ellipse cx="12.6" cy="14.9" rx="5.7" ry="7.95" fill="none" stroke="#111" stroke-width="3.9"/></svg>
<svg class="r" style="left:505.00px;top:568.00px;overflow:visible" width="40" height="24" viewBox="0 0 40 24"><path d="M13.2,7.2 A4.6,4.8 0 0 1 13.2,16.8 Z" fill="none" stroke="#111" stroke-width="2.2" stroke-linejoin="round"/><path d="M6.4,5.4 L12.2,7.6 M6.2,12 L11.4,12 M6.4,18.6 L12.2,16.4" stroke="#111" stroke-width="2.2" stroke-linecap="round"/><g transform="translate(40.4,0) scale(-1,1)"><path d="M13.2,7.2 A4.6,4.8 0 0 1 13.2,16.8 Z" fill="none" stroke="#111" stroke-width="2.2" stroke-linejoin="round"/><path d="M6.4,5.4 L12.2,7.6 M6.2,12 L11.4,12 M6.4,18.6 L12.2,16.4" stroke="#111" stroke-width="2.2" stroke-linecap="round"/></g></svg>
<svg class="r" style="left:505.00px;top:590.00px;overflow:visible" width="40" height="32" viewBox="0 0 40 32"><path d="M19.3,8.4 L24.6,8.4 A8.6,8.4 0 0 1 24.6,25.2 L19.3,25.2 Z" fill="none" stroke="#111" stroke-width="3" stroke-linejoin="round"/><path d="M6.2,11.50 L14.2,8.80 M6.2,15.05 L14.2,12.35 M6.2,18.60 L14.2,15.90 M6.2,22.15 L14.2,19.45 M6.2,25.70 L14.2,23.00 " stroke="#111" stroke-width="2.0" stroke-linecap="round"/></svg>
<svg class="r" style="left:955.00px;top:595.00px;overflow:visible" width="30" height="25" viewBox="0 0 30 25"><path d="M10.9,7.9 A6.6,6.6 0 1 0 16.6,8.0" fill="none" stroke="#111" stroke-width="1.75" stroke-linecap="round"/><path d="M13.6,5.6 L13.6,12.1" stroke="#111" stroke-width="1.75" stroke-linecap="round"/></svg>
<svg class="r" style="left:954.00px;top:676.60px;overflow:visible" width="40" height="24" viewBox="0 0 40 24"><path d="M13.2,7.2 A4.6,4.8 0 0 1 13.2,16.8 Z" fill="none" stroke="#111" stroke-width="2.2" stroke-linejoin="round"/><path d="M6.4,5.4 L12.2,7.6 M6.2,12 L11.4,12 M6.4,18.6 L12.2,16.4" stroke="#111" stroke-width="2.2" stroke-linecap="round"/><g transform="translate(40.4,0) scale(-1,1)"><path d="M13.2,7.2 A4.6,4.8 0 0 1 13.2,16.8 Z" fill="none" stroke="#111" stroke-width="2.2" stroke-linejoin="round"/><path d="M6.4,5.4 L12.2,7.6 M6.2,12 L11.4,12 M6.4,18.6 L12.2,16.4" stroke="#111" stroke-width="2.2" stroke-linecap="round"/></g></svg>
<svg class="r" style="left:954.00px;top:698.60px;overflow:visible" width="40" height="32" viewBox="0 0 40 32"><path d="M19.3,8.4 L24.6,8.4 A8.6,8.4 0 0 1 24.6,25.2 L19.3,25.2 Z" fill="none" stroke="#111" stroke-width="3" stroke-linejoin="round"/><path d="M6.2,11.50 L14.2,8.80 M6.2,15.05 L14.2,12.35 M6.2,18.60 L14.2,15.90 M6.2,22.15 L14.2,19.45 M6.2,25.70 L14.2,23.00 " stroke="#111" stroke-width="2.0" stroke-linecap="round"/></svg>
<svg class="r" style="left:955.00px;top:815.00px;overflow:visible" width="35" height="28" viewBox="0 0 35 28"><path d="M19.0,5.6 A9.2,8.25 0 0 1 19.0,22.1 Z" fill="none" stroke="#111" stroke-width="1.8" stroke-linejoin="round"/><path d="M4.8,12.0 L14.3,7.6 M4.8,16.6 L14.3,12.3 M4.8,21.3 L14.3,16.9" stroke="#111" stroke-width="1.8" stroke-linecap="round"/><path d="M9.6,4.9 Q11.8,14 8.7,23.6" fill="none" stroke="#111" stroke-width="1.8" stroke-linecap="round"/></svg>
<svg class="r" style="left:955.00px;top:840.00px;overflow:visible" width="35" height="30" viewBox="0 0 35 30"><path d="M14.0,6.6 A9.4,8.3 0 0 0 14.0,23.2 Z" fill="none" stroke="#111" stroke-width="1.8" stroke-linejoin="round"/><path d="M19.0,11.0 L25.6,11.0 M19.0,15.2 L25.6,15.2 M19.0,20.0 L25.6,20.0" stroke="#111" stroke-width="1.8" stroke-linecap="round"/><path d="M22.0,6.6 Q19.4,15.5 23.0,24.2" fill="none" stroke="#111" stroke-width="1.8" stroke-linecap="round"/></svg>
</body></html>
